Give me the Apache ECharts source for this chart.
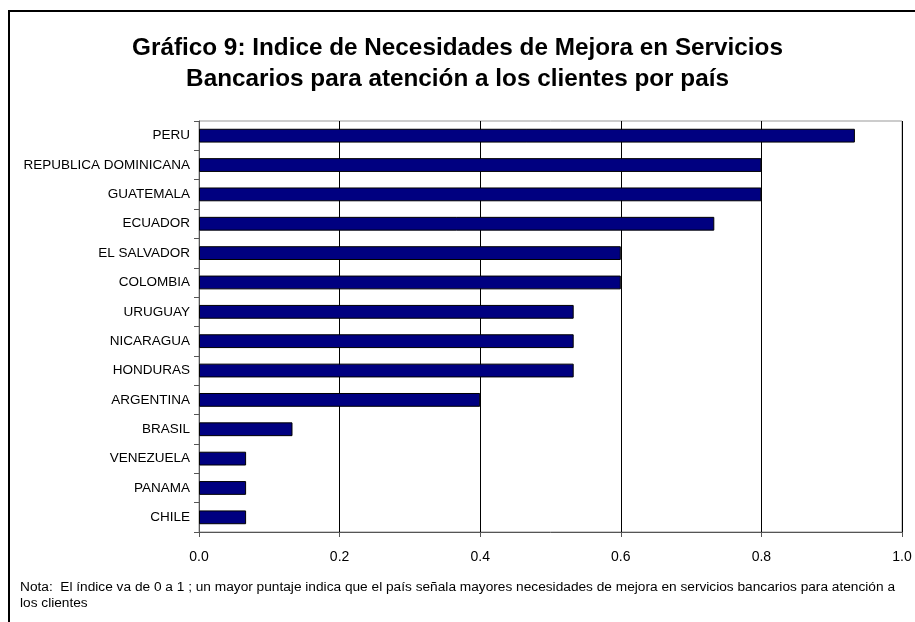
<!DOCTYPE html>
<html>
<head>
<meta charset="utf-8">
<script src="https://cdn.jsdelivr.net/npm/echarts@6/dist/echarts.min.js"></script>
<style>
  html, body { margin: 0; padding: 0; background: #fff; }
  #frame { position: absolute; left: 8px; top: 10px; width: 920px; height: 630px; border: 2px solid #000; box-sizing: border-box; }
  #chart { position: absolute; left: 0; top: 0; width: 915px; height: 622px; }
</style>
</head>
<body>
<div id="frame"></div>
<div id="chart"></div>
<script>
// Countries, listed from the bottom bar to the top bar
const countries = ['CHILE', 'PANAMA', 'VENEZUELA', 'BRASIL', 'ARGENTINA', 'HONDURAS', 'NICARAGUA',
  'URUGUAY', 'COLOMBIA', 'EL SALVADOR', 'ECUADOR', 'GUATEMALA', 'REPUBLICA DOMINICANA', 'PERU'];
// Index of improvement needs (0 to 1)
const indexValues = [0.067, 0.067, 0.067, 0.133, 0.4, 0.533, 0.533,
  0.533, 0.6, 0.6, 0.733, 0.8, 0.8, 0.933];
const xTicks = [0, 0.2, 0.4, 0.6, 0.8, 1.0];

const titleLines = ['Gráfico 9: Indice de Necesidades de Mejora en Servicios',
  'Bancarios para atención a los clientes por país'];
const noteLines = ['Nota:  El índice va de 0 a 1 ; un mayor puntaje indica que el país señala mayores necesidades de mejora en servicios bancarios para atención a',
  'los clientes'];

const chart = echarts.init(document.getElementById('chart'));
chart.setOption({
  animation: false,
  title: {
    text: titleLines.join('\n'),
    left: 'center',
    top: 28,
    textStyle: { fontFamily: 'Liberation Sans', fontSize: 24.3, fontWeight: 'bold', color: '#000', lineHeight: 31 }
  },
  graphic: [{
    type: 'text',
    left: 20,
    top: 579,
    style: { text: noteLines.join('\n'), font: '13.7px "Liberation Sans", Arial', fill: '#000', lineHeight: 16 }
  }],
  grid: { left: 199, top: 121, width: 703, height: 411, containLabel: false, show: true, borderColor: '#999', borderWidth: 1 },
  xAxis: {
    type: 'value', min: 0, max: 1, interval: 0.2,
    axisLine: { show: true, lineStyle: { color: '#555', width: 1 } },
    axisTick: { show: true, length: 5, lineStyle: { color: '#555' } },
    splitLine: { show: true, lineStyle: { color: '#000', width: 1 } },
    axisLabel: { color: '#000', fontSize: 14, fontFamily: 'Liberation Sans', margin: 18,
      formatter: v => xTicks.includes(+v.toFixed(1)) ? v.toFixed(1) : '' }
  },
  yAxis: {
    type: 'category', data: countries,
    axisLine: { show: true, lineStyle: { color: '#555', width: 1 } },
    axisTick: { show: true, length: 5, inside: false, alignWithLabel: false, lineStyle: { color: '#555' } },
    axisLabel: { color: '#000', fontSize: 13.5, fontFamily: 'Liberation Sans', margin: 9 },
    splitLine: { show: false }
  },
  series: [{
    type: 'bar', data: indexValues, barWidth: '47%',
    itemStyle: { color: '#000080', borderColor: '#000', borderWidth: 1 }
  }]
});
</script>
</body>
</html>
